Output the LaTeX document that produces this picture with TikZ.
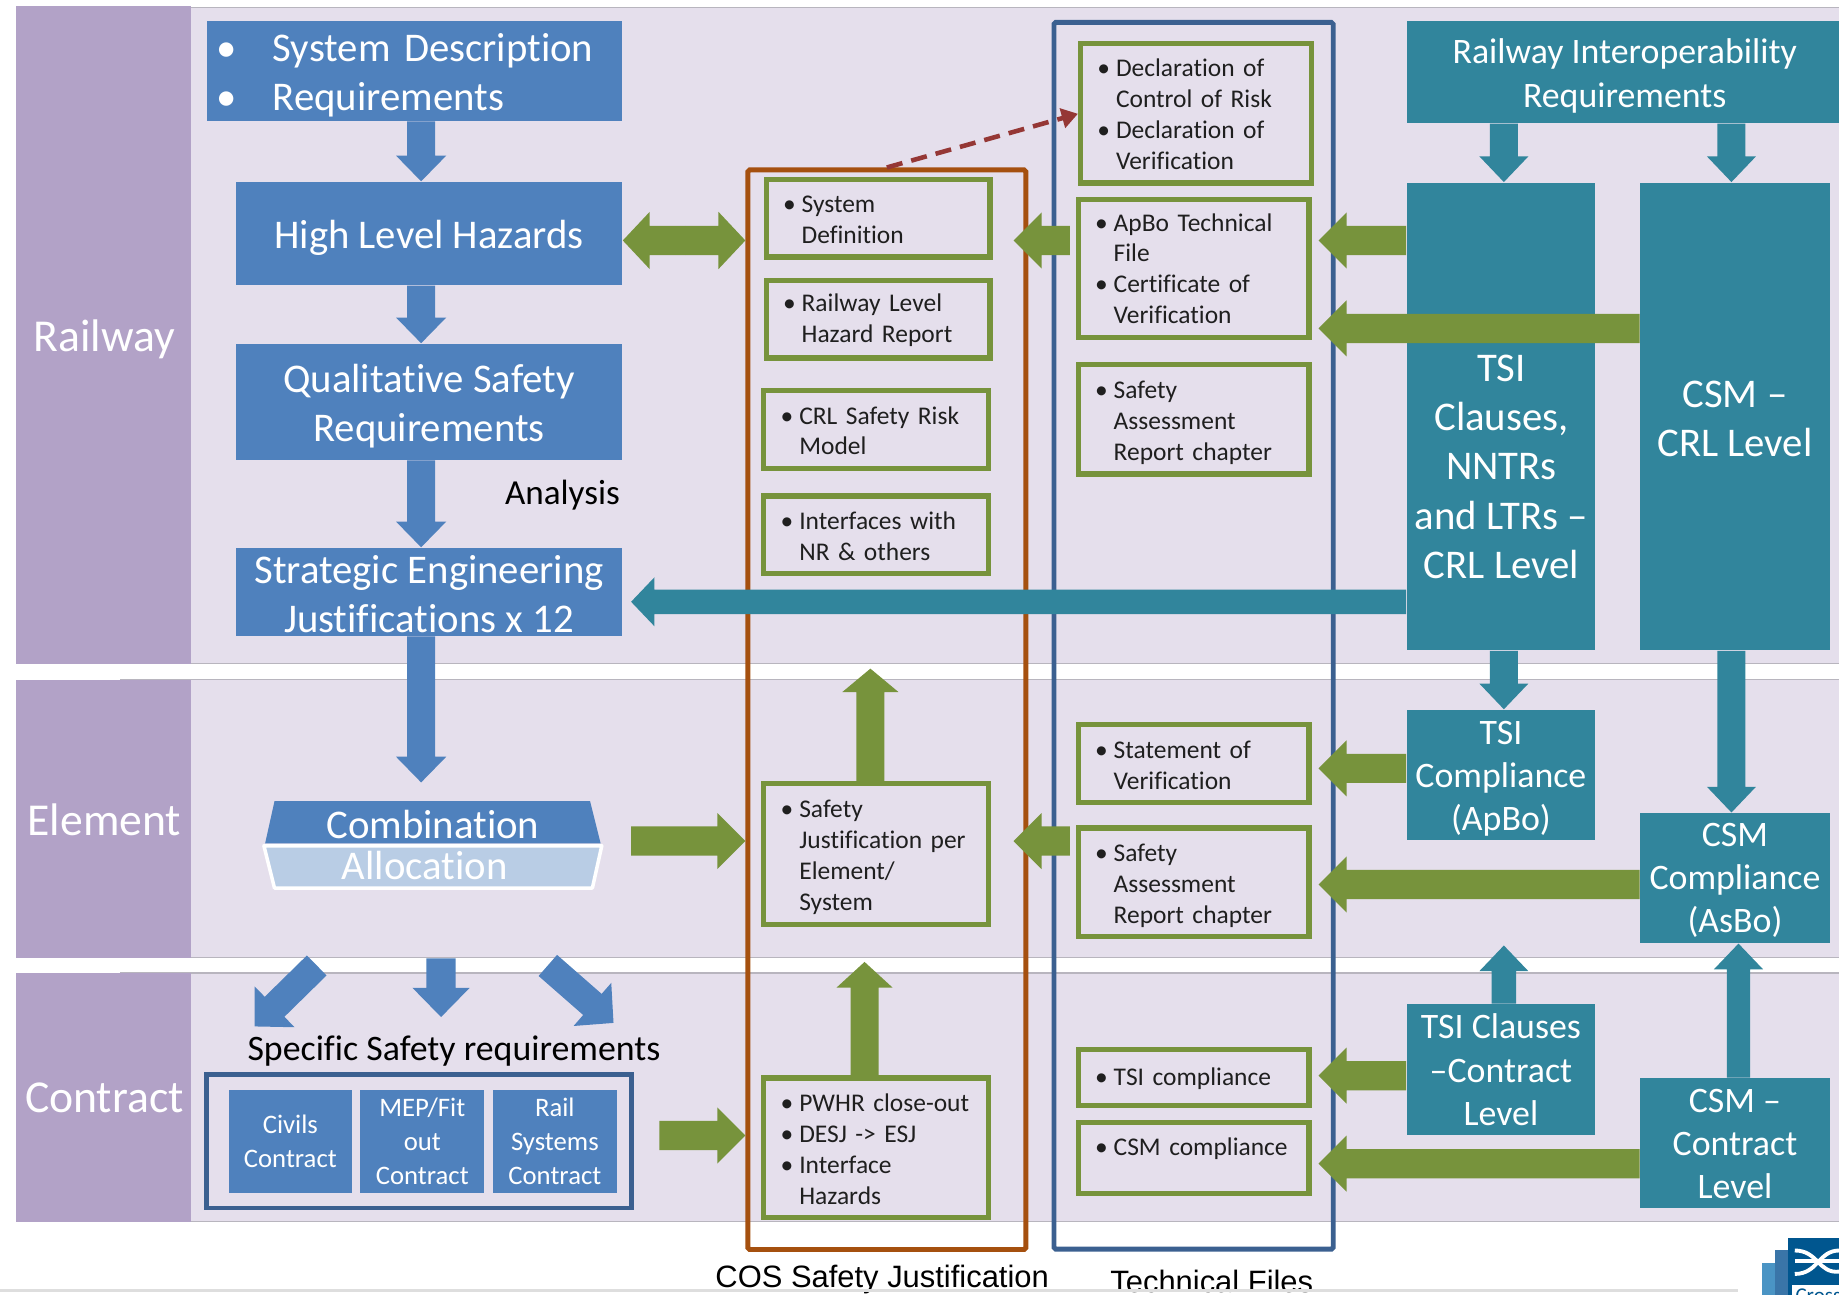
\documentclass[tikz,border=0pt]{standalone}
\usepackage{fontspec}
\setmainfont[Ligatures=NoCommon]{Carlito}
\newfontfamily\arialf{Liberation Sans}
\usetikzlibrary{calc,arrows.meta}
\definecolor{lav}{HTML}{E5DFEC}
\definecolor{purp}{HTML}{B2A2C7}
\definecolor{bandline}{HTML}{B8B5BE}
\definecolor{blu}{HTML}{4F81BD}
\definecolor{lblu}{HTML}{B9CDE5}
\definecolor{teal2}{HTML}{31859C}
\definecolor{grn}{HTML}{77933C}
\definecolor{brn}{HTML}{A5500F}
\definecolor{navy}{HTML}{3B6090}
\definecolor{redd}{HTML}{953735}
\definecolor{logoA}{HTML}{00568F}
\definecolor{logoB}{HTML}{3A75A8}
\definecolor{logoC}{HTML}{4A94C4}
\newcommand\fbig{\fontsize{11.6}{14}\selectfont}
\newcommand\fmed{\fontsize{10.2}{12.3}\selectfont}
\newcommand\fsml{\fontsize{7.25}{8.8}\selectfont}
\newcommand\fctr{\fontsize{7.6}{9.7}\selectfont}
\newcommand\fband{\fontsize{13}{15}\selectfont}
\newlength\indw \setlength\indw{5.3pt}
\newcommand\bi{\hspace*{4.8pt}\makebox[\indw][l]{•}}
\newcommand\ci{\hspace*{4.8pt}\hspace*{\indw}}
% filled box with corners given in reference units
\newcommand\bx[7]{%
  \pgfmathsetmacro\bxw{(#5-#3)*0.3325}\pgfmathsetmacro\bxh{(#6-#4)*0.3325}%
  \node[#1,minimum width=\bxw pt,minimum height=\bxh pt] (#2) at ({(#3+#5)/2},{(#4+#6)/2}) {};
  \node[#1,fill=none,draw=none,yshift=\bxoff] (#2t) at (#2.center) {#7};}
\newcommand\bxoff{-1.1pt}
% green outlined box: the corners are the outer edges of the line
\newcommand\gb[7][yshift=-0.4pt]{%
  \pgfmathsetmacro\bxw{(#5-#3-3.5)*0.3325}\pgfmathsetmacro\bxh{(#6-#4-3.5)*0.3325}%
  \node[gbox,minimum width=\bxw pt,minimum height=\bxh pt] (#2) at ({(#3+#5)/2},{(#4+#6)/2}) {};
  \node[gtext,text width=\bxw pt,#1] (#2t) at (#2.center) {#7};}
% block arrow: colour, start, end, shaft width, head width, head length
\newcommand\barrow[6]{%
  \pgfmathsetmacro\ba{#4*0.16625}\pgfmathsetmacro\bb{#5*0.16625}\pgfmathsetmacro\bc{#6*0.3325}%
  \path (#2) coordinate (ba) (#3) coordinate (bb);
  \path ($(bb)!\bc pt!(ba)$) coordinate (bn);
  \fill[#1] ($(ba)!\ba pt!90:(bb)$) -- ($(bn)!\ba pt!90:(bb)$) -- ($(bn)!\bb pt!90:(bb)$) -- (bb)
     -- ($(bn)!\bb pt!-90:(bb)$) -- ($(bn)!\ba pt!-90:(bb)$) -- ($(ba)!\ba pt!-90:(bb)$) -- cycle;}
\tikzset{
  bluebox/.style={fill=blu,text=white,inner sep=0pt,align=center,font=\fbig},
  tealbox/.style={fill=teal2,text=white,inner sep=0pt,align=center,font=\fmed},
  bandbox/.style={fill=purp,text=white,inner sep=0pt,font=\fband},
  lavbox/.style={fill=lav,draw=bandline,line width=0.35pt,inner sep=0pt},
  ctrbox/.style={fill=blu,text=white,inner sep=0pt,align=center,font=\fctr},
  gbox/.style={draw=grn,line width=1.5pt,inner sep=0pt},
  gtext/.style={inner sep=0pt,align=left,font=\fsml,text=black!88},
  frame/.style={draw,line width=1.4pt,rounded corners=0.5pt,inner sep=0pt},
  plain/.style={inner sep=0pt,text=black},
}
\begin{document}
\begin{tikzpicture}[x=0.01173cm,y=-0.01173cm]
\useasboundingbox (0,0) rectangle (1567.7,1103.2);
% bands
\renewcommand\bxoff{0pt}
\bx{lavbox}{bandR}{100}{5}{1600}{567}{}
\bx{lavbox}{bandE}{100}{579}{1600}{817}{}
\bx{lavbox}{bandC}{100}{829}{1600}{1042}{}
\bx{bandbox}{railway}{13.5}{4}{163}{567}{}
\bx{bandbox}{element}{13.5}{579}{163}{817}{}
\bx{bandbox}{contract}{13.5}{829}{163}{1042}{}
\node[plain,text=white,font=\fband] (railwayT) at (89,289) {Railway};
\node[plain,text=white,font=\fband] (elementT) at (89,699) {Element};
\node[plain,text=white,font=\fband] (contractT) at (89,936) {Contract};
% frames
\bx{frame,draw=brn}{cos}{637}{143}{875}{1067}{}
\bx{frame,draw=navy}{tf}{898}{17}{1137}{1067}{}
% left blue column
\renewcommand\bxoff{-1.2pt}
\bx{bluebox,align=left,text width=118pt}{sr}{176}{18}{531}{103}{\hspace*{2.6pt}\makebox[16pt][l]{•}System Description\\\hspace*{2.6pt}\makebox[16pt][l]{•}Requirements}
\bx{bluebox}{hlh}{200.5}{155}{531}{243}{High Level Hazards}
\bx{bluebox}{qsr}{200.5}{293}{531}{392}{Qualitative Safety\\Requirements}
\renewcommand\bxoff{-0.7pt}
\bx{bluebox}{sej}{200.5}{467}{531}{542}{Strategic Engineering\\Justifications x 12}
\node[plain,font=\fontsize{10}{12}\selectfont,anchor=east] (analysis) at (529,422) {Analysis};
% combination / allocation
\fill[blu] (234,683) -- (503,683) -- (512,719) -- (226,719) -- cycle;
\draw[white,line width=1pt,fill=lblu,line join=round] (225,721) -- (513,721) -- (505,757) -- (234,757) -- cycle;
\node[plain,text=white,font=\fbig] (comb) at (369,703) {Combination};
\node[plain,text=white,font=\fbig] (alloc) at (362,738) {Allocation};
\coordinate (combL) at (270,823);
\coordinate (combM) at (376,817);
\coordinate (combRt) at (467,823);
\coordinate (combE) at (538,717);
\coordinate (allocTipL) at (217,875);
\coordinate (allocTipM) at (376,867);
\coordinate (allocTipR) at (523,872);
\node[plain,font=\fmed] (ssr) at (387,896) {Specific Safety requirements};
% contract group
\renewcommand\bxoff{0pt}
\bx{frame,draw=navy,rounded corners=0pt}{cf}{175}{916}{539}{1030}{}
\bx{ctrbox}{civ}{195}{929}{300}{1017}{Civils\\Contract}
\bx{ctrbox}{mep}{307}{929}{413}{1017}{MEP/Fit\\out\\Contract}
\bx{ctrbox}{rail}{420}{929}{526}{1017}{Rail\\Systems\\Contract}
% COS column
\gb{sd}{651}{151}{846}{221}{\bi System\\\ci Definition}
\gb{rlhr}{651}{237}{846}{307}{\bi Railway Level\\\ci Hazard Report}
\gb{crl}{649}{331}{845}{401}{\bi CRL Safety Risk\\\ci Model}
\gb{intf}{649}{421}{845}{491}{\bi Interfaces with\\\ci NR \& others}
\gb[yshift=-1pt]{sj}{649}{666}{845}{790}{\bi Safety\\\ci Justification per\\\ci Element/\\\ci System}
\gb{pwhr}{649}{917}{845}{1040}{\bi PWHR close-out\\\bi DESJ -> ESJ\\\bi Interface\\\ci Hazards}
% technical file column
\gb{dec}{919}{35}{1120}{158}{\bi Declaration of\\\ci Control of Risk\\\bi Declaration of\\\ci Verification}
\gb[yshift=0pt]{apbo}{917}{168}{1118}{290}{\bi ApBo Technical\\\ci File\\\bi Certificate of\\\ci Verification}
\gb[yshift=-1pt]{sar}{917}{309}{1118}{406}{\bi Safety\\\ci Assessment\\\ci Report chapter}
\gb{sov}{917}{616}{1118}{686}{\bi Statement of\\\ci Verification}
\gb[yshift=-1pt]{sarb}{917}{704}{1118}{800}{\bi Safety\\\ci Assessment\\\ci Report chapter}
\gb{tsic}{917}{893}{1118}{944}{\bi TSI compliance}
\gb[yshift=2.6pt]{csmc}{917}{955}{1118}{1019}{\bi CSM compliance}
% teal column
\renewcommand\bxoff{-1.1pt}
\bx{tealbox}{rir}{1199}{18}{1571}{105}{Railway Interoperability\\Requirements}
\renewcommand\bxoff{0pt}
\bx{tealbox}{tsi}{1199}{155}{1360}{555}{}
\node[plain,text=white,align=center,font=\fbig] (tsiT) at (1280,398) {TSI\\Clauses,\\NNTRs\\and LTRs –\\CRL Level};
\renewcommand\bxoff{-0.6pt}
\bx{tealbox,font=\fbig}{csm}{1398}{155}{1560}{555}{CSM –\\CRL Level}
\renewcommand\bxoff{-1.2pt}
\bx{tealbox}{tc}{1199}{605}{1360}{716}{TSI\\Compliance\\(ApBo)}
\renewcommand\bxoff{-0.7pt}
\bx{tealbox}{ca}{1398}{693}{1560}{804}{CSM\\Compliance\\(AsBo)}
\renewcommand\bxoff{0pt}
\bx{tealbox}{tcl}{1199}{856}{1360}{968}{TSI Clauses\\–Contract\\Level}
\renewcommand\bxoff{-0.3pt}
\bx{tealbox}{ccl}{1398}{919}{1560}{1030}{CSM –\\Contract\\Level}
% captions
\node[plain,font=\arialf\fontsize{8.8}{10}\selectfont] (cosT) at (752,1091) {COS Safety Justification};
\node[plain,font=\arialf\fontsize{8.8}{10}\selectfont] (tfT) at (1033,1092) {Technical Files};
% blue arrows
\barrow{blu}{359,0|-sr.south}{359,0|-hlh.north}{24}{43}{22}
\barrow{blu}{359,0|-hlh.south}{359,0|-qsr.north}{24}{43}{22}
\barrow{blu}{359,0|-qsr.south}{359,0|-sej.north}{24}{43}{22}
\barrow{blu}{359,0|-sej.south}{359,667}{24}{43}{22}
\barrow{blu}{combL}{allocTipL}{24}{49}{24}
\barrow{blu}{combM}{allocTipM}{25}{49}{25}
\barrow{blu}{combRt}{allocTipR}{24}{49}{24}
% teal arrows
\barrow{teal2}{1282,0|-rir.south}{1282,0|-tsi.north}{24}{42}{22}
\barrow{teal2}{1476,0|-rir.south}{1476,0|-csm.north}{24}{42}{22}
\barrow{teal2}{1282,0|-tsi.south}{1282,0|-tc.north}{24}{42}{22}
\barrow{teal2}{1476,0|-csm.south}{1476,0|-ca.north}{24}{42}{22}
\barrow{teal2}{tsi.west|-0,513}{538,513}{21}{42}{20}
\barrow{teal2}{1282,0|-tcl.north}{1282,806}{21}{42}{22}
\barrow{teal2}{1482,0|-ccl.north}{1482,0|-ca.south}{20}{42}{22}
% green arrows
\barrow{grn}{584,205}{hlh.east|-0,205}{25}{49}{23}
\barrow{grn}{584,205}{cos.west|-0,205}{25}{49}{23}
\barrow{grn}{912,205}{864,205}{25}{48}{24}
\barrow{grn}{tsi.west|-0,205}{1124,205}{25}{48}{24}
\barrow{grn}{csm.west|-0,280}{1124,280}{25}{48}{24}
\barrow{grn}{tc.west|-0,655}{1124,655}{25}{48}{24}
\barrow{grn}{ca.west|-0,754}{1124,754}{25}{48}{24}
\barrow{grn}{912,717}{864,717}{25}{48}{24}
\barrow{grn}{combE}{cos.west|-0,717}{25}{48}{24}
\barrow{grn}{742,0|-sj.north}{742,570}{24}{48}{20}
\barrow{grn}{737,0|-pwhr.north}{737,820}{24}{48}{22}
\barrow{grn}{562,968}{cos.west|-0,968}{25}{48}{24}
\barrow{grn}{tcl.west|-0,917}{1124,917}{25}{48}{24}
\barrow{grn}{ccl.west|-0,992}{1124,992}{25}{48}{24}
% dashed arrow
\draw[redd,line width=1.3pt,dash pattern=on 4.6pt off 2.6pt,-{Triangle[length=4.6pt,width=5.6pt]}] (756,0|-cos.north) -- (dec.west|-0,97);
% footer line and logo
\draw[black!13,line width=0.9pt] (0,1100) -- (1482,1100);
\begin{scope}
\clip (0,0) rectangle (1567.7,1103.2);
\fill[logoC] (1502,1077) rectangle (1513,1110);
\fill[logoB] (1513,1066) rectangle (1524,1110);
\fill[logoA] (1524,1055) rectangle (1568,1110);
\fill[white] (1528,1095) rectangle (1568,1110);
\draw[white,line width=1.1pt] (1530,1066) .. controls (1550,1066) and (1550,1086) .. (1568,1084);
\draw[white,line width=1.1pt] (1530,1086) .. controls (1550,1086) and (1550,1066) .. (1568,1066);
\draw[white,line width=1.1pt] (1530,1075) -- (1568,1075);
\node[inner sep=0pt,anchor=north west,text=logoA,font=\fontsize{6}{7}\selectfont] (logoT) at (1530,1097) {Crossrail};
\end{scope}
\end{tikzpicture}
\end{document}
